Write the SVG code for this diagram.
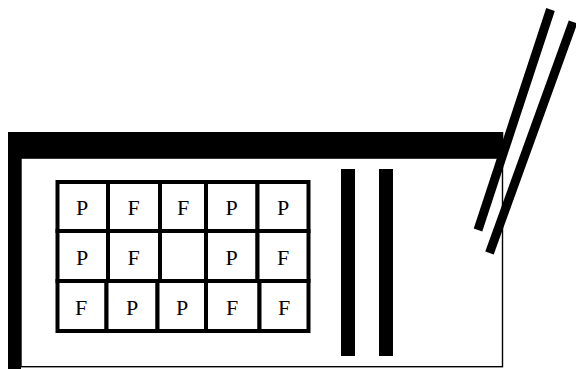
<svg xmlns="http://www.w3.org/2000/svg" width="576" height="369" viewBox="0 0 576 369">
  <style>
    .cell { fill: #fff; stroke: #000; stroke-width: 4; }
    .lbl { font-family: "Liberation Serif", "Times New Roman", serif; font-size: 22px; fill: #000; text-anchor: middle; }
    .bar { fill: #000; }
    .diag { stroke: #000; stroke-width: 9; fill: none; }
  </style>
  <rect x="0" y="0" width="576" height="369" fill="#fff"/>
  <g id="frame">
    <rect x="21" y="158" width="481.5" height="208.7" fill="#fff" stroke="#000" stroke-width="1.4"/>
    <rect class="bar" x="8" y="132" width="495.3" height="26.3"/>
    <rect class="bar" x="8" y="132" width="13" height="237"/>
  </g>
  <g id="grid">
    <g id="row1">
      <g id="c11"><rect class="cell" x="57.5" y="182" width="50.5" height="49"/><text class="lbl" x="82" y="214.5">P</text></g>
      <g id="c12"><rect class="cell" x="108" y="182" width="52" height="49"/><text class="lbl" x="133.5" y="214.5">F</text></g>
      <g id="c13"><rect class="cell" x="160" y="182" width="46" height="49"/><text class="lbl" x="183" y="214.5">F</text></g>
      <g id="c14"><rect class="cell" x="206" y="182" width="51.5" height="49"/><text class="lbl" x="231.5" y="214.5">P</text></g>
      <g id="c15"><rect class="cell" x="257.5" y="182" width="51" height="49"/><text class="lbl" x="283" y="214.5">P</text></g>
    </g>
    <g id="row2">
      <g id="c21"><rect class="cell" x="57.5" y="231" width="50.5" height="50"/><text class="lbl" x="82" y="265">P</text></g>
      <g id="c22"><rect class="cell" x="108" y="231" width="52" height="50"/><text class="lbl" x="133.5" y="265">F</text></g>
      <g id="c23"><rect class="cell" x="160" y="231" width="46" height="50"/></g>
      <g id="c24"><rect class="cell" x="206" y="231" width="51.5" height="50"/><text class="lbl" x="231.5" y="265">P</text></g>
      <g id="c25"><rect class="cell" x="257.5" y="231" width="51" height="50"/><text class="lbl" x="283" y="265">F</text></g>
    </g>
    <g id="row3">
      <g id="c31"><rect class="cell" x="57.5" y="281" width="49" height="50"/><text class="lbl" x="81" y="315">F</text></g>
      <g id="c32"><rect class="cell" x="106.5" y="281" width="51" height="50"/><text class="lbl" x="132" y="315">P</text></g>
      <g id="c33"><rect class="cell" x="157.5" y="281" width="48.5" height="50"/><text class="lbl" x="182" y="315">P</text></g>
      <g id="c34"><rect class="cell" x="206" y="281" width="53.5" height="50"/><text class="lbl" x="232" y="315">F</text></g>
      <g id="c35"><rect class="cell" x="259.5" y="281" width="49" height="50"/><text class="lbl" x="284" y="315">F</text></g>
    </g>
  </g>
  <g id="bars">
    <rect class="bar" x="341" y="169" width="14" height="187"/>
    <rect class="bar" x="379" y="169" width="14" height="187"/>
  </g>
  <g id="connectors">
    <line class="diag" x1="550.5" y1="9.5" x2="478" y2="230"/>
    <line class="diag" x1="573" y1="22" x2="489.5" y2="253"/>
  </g>
</svg>
